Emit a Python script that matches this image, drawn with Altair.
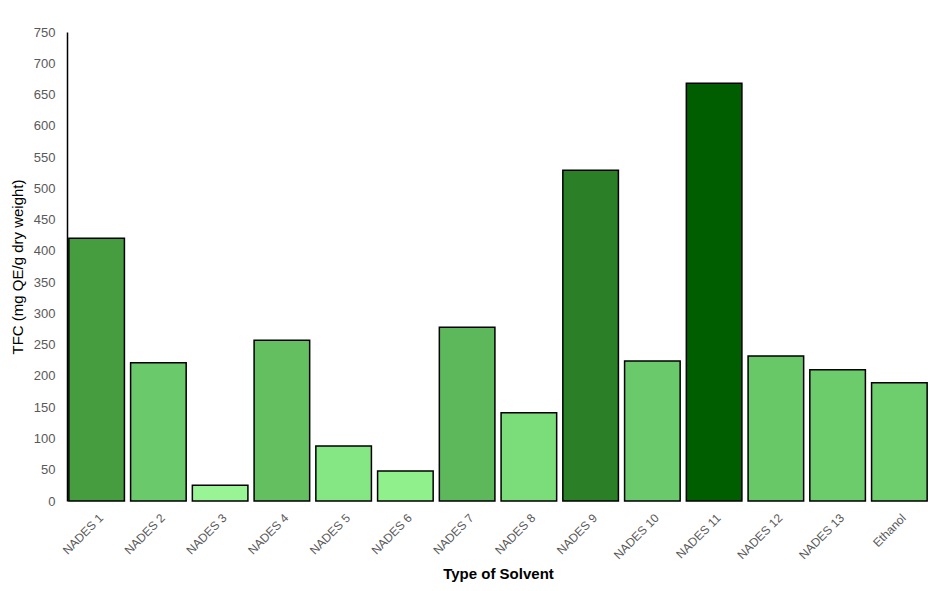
import altair as alt
import pandas as pd

solvents = ["NADES 1", "NADES 2", "NADES 3", "NADES 4", "NADES 5", "NADES 6", "NADES 7",
            "NADES 8", "NADES 9", "NADES 10", "NADES 11", "NADES 12", "NADES 13", "Ethanol"]
tfc = [420, 221, 25, 257, 88, 48, 278, 141, 529, 224, 668, 232, 210, 189]
colors = ["#469d3f", "#6ac96a", "#98f494", "#63bf5f", "#85e783", "#90f08b", "#5cb85a",
          "#7bdd79", "#2b7f27", "#6ac96a", "#005e00", "#68c766", "#6ccb6a", "#6ecd6c"]

df = pd.DataFrame({"solvent": solvents, "tfc": tfc, "color": colors})

FONT = "Liberation Sans"

chart = alt.Chart(df).mark_bar(stroke="black", strokeWidth=1.5).encode(
    x=alt.X("solvent:N", sort=solvents,
            scale=alt.Scale(paddingInner=0.1, paddingOuter=0.03),
            axis=alt.Axis(title="Type of Solvent", labelAngle=-45, labelAlign="right",
                          labelBaseline="top", labelColor="#595959", labelFontSize=12,
                          labelFont=FONT, ticks=False, domain=False, labelPadding=11,
                          labelOffset=1,
                          titleFont=FONT, titleFontSize=15, titleFontWeight="bold",
                          titleColor="black", titlePadding=6)),
    y=alt.Y("tfc:Q", scale=alt.Scale(domain=[0, 750], nice=False),
            axis=alt.Axis(title="TFC (mg QE/g dry weight)", values=list(range(0, 751, 50)),
                          grid=False, ticks=False, domainColor="black", domainWidth=1.5,
                          labelColor="#595959", labelFontSize=13, labelFont=FONT,
                          labelPadding=12, titleFont=FONT, titleFontSize=15,
                          titleFontWeight="normal", titleColor="black", titlePadding=8)),
    color=alt.Color("color:N", scale=None),
).properties(
    width=862, height=469,
    autosize=alt.AutoSizeParams(type="none"),
    padding={"left": 59, "top": 24, "right": 4, "bottom": 82},
).configure_view(stroke=None)

chart.save("out.html", embed_options={"renderer": "svg", "actions": False})
